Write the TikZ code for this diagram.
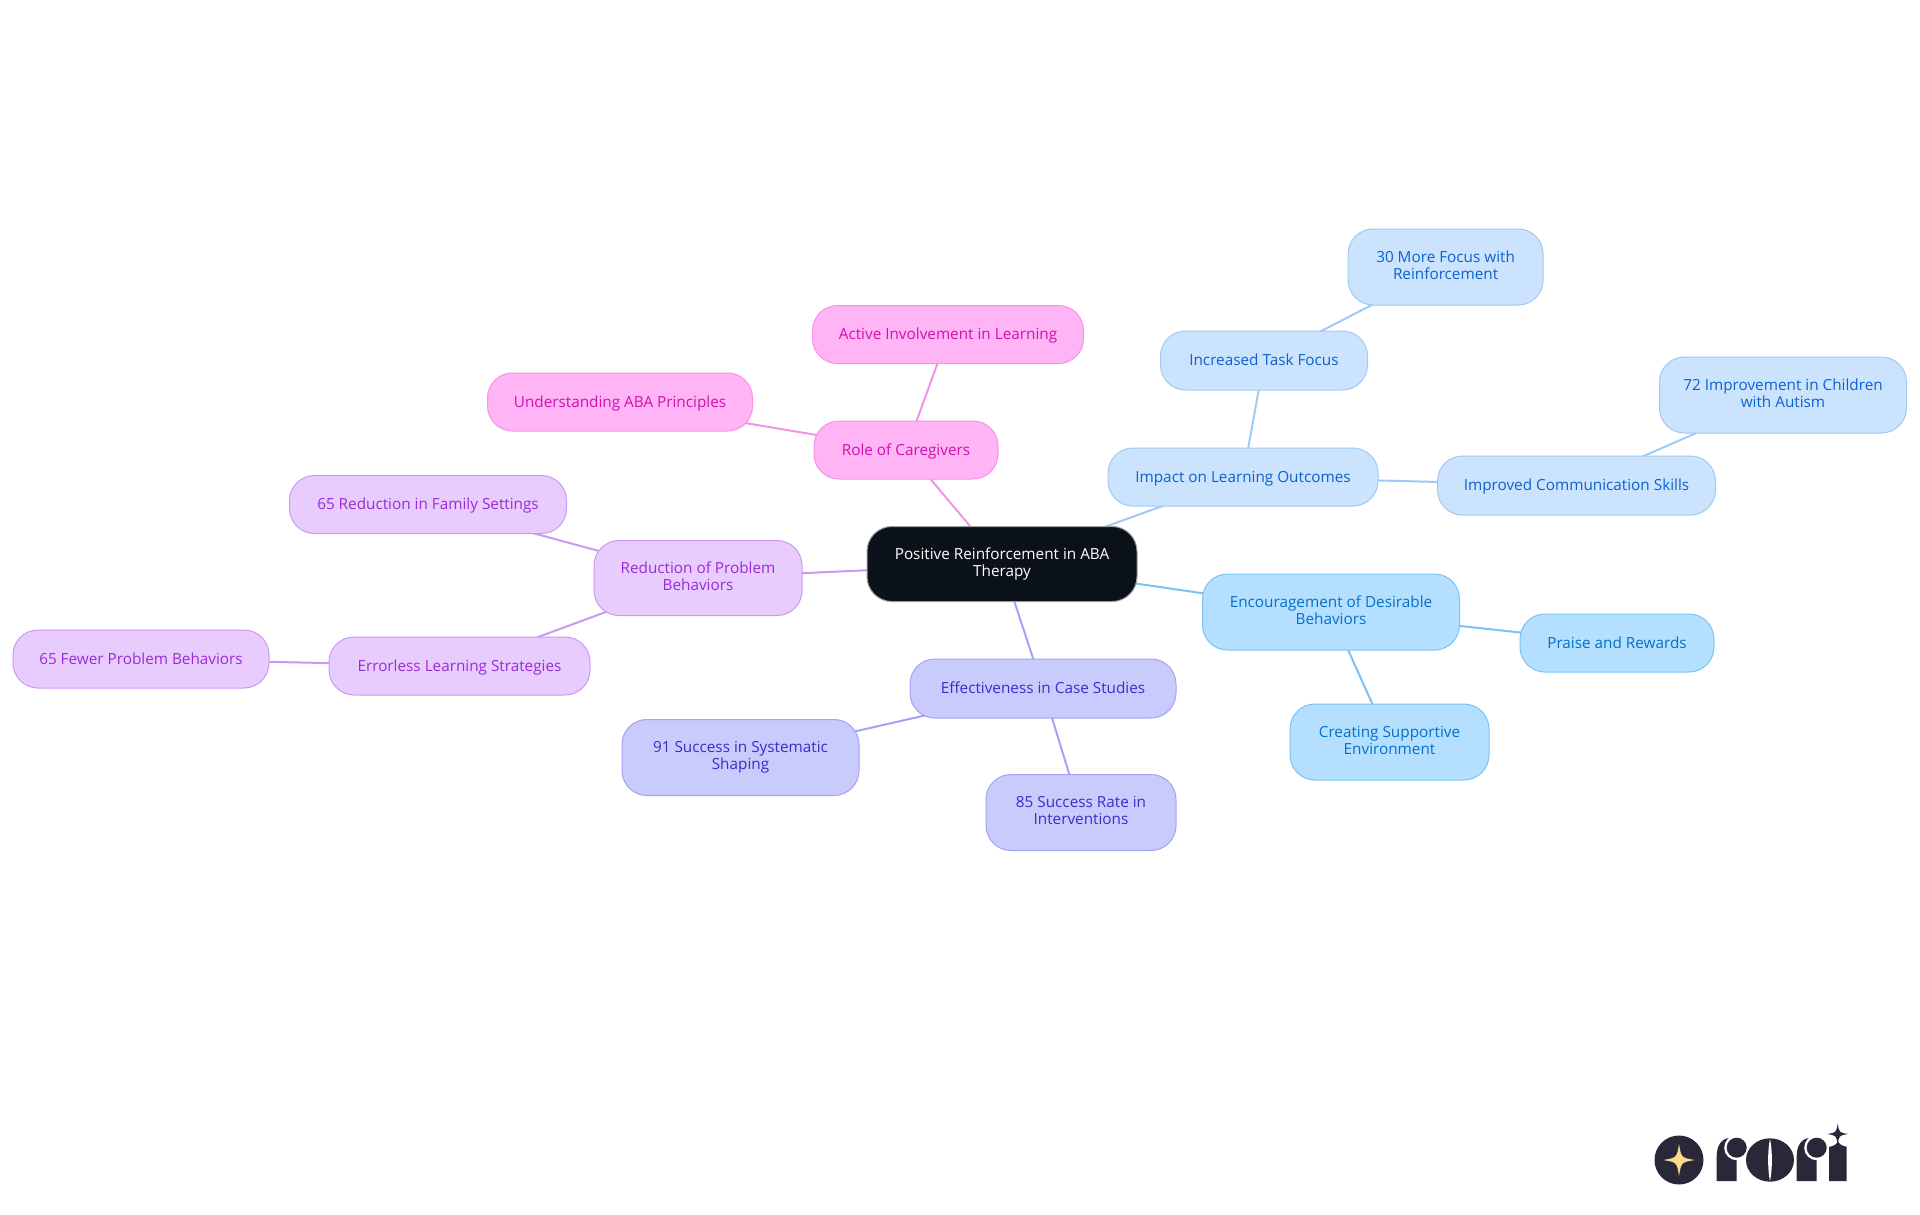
\documentclass[tikz,border=0pt]{standalone}
\usepackage{fontspec}
\setmainfont{Open Sans}
\usetikzlibrary{backgrounds}
\definecolor{rootfill}{HTML}{0B1119}
\definecolor{rootline}{HTML}{9A9CA0}
\definecolor{skyfill}{HTML}{CCE3FD}
\definecolor{skyline}{HTML}{A0C9F5}
\definecolor{skytext}{HTML}{0B62D0}
\definecolor{cyanfill}{HTML}{B5DFFF}
\definecolor{cyanline}{HTML}{7CC2F4}
\definecolor{cyantext}{HTML}{0570C8}
\definecolor{indigofill}{HTML}{C8CBFC}
\definecolor{indigoline}{HTML}{A3A3F2}
\definecolor{indigotext}{HTML}{3A2DCB}
\definecolor{violetfill}{HTML}{E7CCFD}
\definecolor{violetline}{HTML}{CC99F0}
\definecolor{violettext}{HTML}{9A2BD8}
\definecolor{pinkfill}{HTML}{FFB4F5}
\definecolor{pinkline}{HTML}{F592E6}
\definecolor{pinktext}{HTML}{D010B0}
\definecolor{logodark}{HTML}{2A2838}
\definecolor{logostar}{HTML}{FBD88A}
\newcommand{\sparkle}[3]{(#1,#2-#3) .. controls (#1+0.14*#3,#2-0.14*#3) .. (#1+#3,#2) .. controls (#1+0.14*#3,#2+0.14*#3) .. (#1,#2+#3) .. controls (#1-0.14*#3,#2+0.14*#3) .. (#1-#3,#2) .. controls (#1-0.14*#3,#2-0.14*#3) .. (#1,#2-#3) -- cycle}
\begin{document}
\begin{tikzpicture}[x=1pt,y=-1pt,line join=round,line cap=round,
		font=\fontsize{15.3}{17}\selectfont,
		mind/.style 2 args={rounded corners=25pt,align=center,inner sep=0pt,line width=1pt,minimum width=#1pt,minimum height=#2pt,
			execute at begin node={\rule{0pt}{14pt}},execute at end node={\rule[-4pt]{0pt}{4pt}}},
		rootnode/.style={fill=rootfill,draw=rootline,text=white},
		skynode/.style={fill=skyfill,draw=skyline,text=skytext},
		cyannode/.style={fill=cyanfill,draw=cyanline,text=cyantext},
		indigonode/.style={fill=indigofill,draw=indigoline,text=indigotext},
		violetnode/.style={fill=violetfill,draw=violetline,text=violettext},
		pinknode/.style={fill=pinkfill,draw=pinkline,text=pinktext},
		link/.style={line width=2pt}]
		\useasboundingbox (0,0) rectangle (1920,1215);
		\node[mind={270}{75},rootnode] (root) at (1002,564) {Positive Reinforcement in ABA\\Therapy};
		\node[mind={270}{58},skynode] (impact) at (1243,477) {Impact on Learning Outcomes};
		\node[mind={207}{59},skynode] (taskfocus) at (1264,360.5) {Increased Task Focus};
		\node[mind={195}{76},skynode] (morefocus) at (1445.6,267) {30 More Focus with\\Reinforcement};
		\node[mind={278}{59},skynode] (commskills) at (1576.5,485.5) {Improved Communication Skills};
		\node[mind={247}{76},skynode] (autism) at (1783,395) {72 Improvement in Children\\with Autism};
		\node[mind={257}{76},cyannode] (encourage) at (1331,612) {Encouragement of Desirable\\Behaviors};
		\node[mind={194}{58},cyannode] (praise) at (1617,643) {Praise and Rewards};
		\node[mind={199}{76},cyannode] (supportive) at (1389.5,742) {Creating Supportive\\Environment};
		\node[mind={266}{59},indigonode] (casestudies) at (1043,688.5) {Effectiveness in Case Studies};
		\node[mind={237}{76},indigonode] (shaping) at (740.5,757.5) {91 Success in Systematic\\Shaping};
		\node[mind={190}{76},indigonode] (successrate) at (1081,812.5) {85 Success Rate in\\Interventions};
		\node[mind={208}{75},violetnode] (reduction) at (698,578) {Reduction of Problem\\Behaviors};
		\node[mind={277}{58},violetnode] (family) at (428,504.5) {65 Reduction in Family Settings};
		\node[mind={261}{58},violetnode] (errorless) at (459.5,666) {Errorless Learning Strategies};
		\node[mind={256}{58},violetnode] (fewer) at (141,659) {65 Fewer Problem Behaviors};
		\node[mind={184}{58},pinknode] (caregivers) at (906,450) {Role of Caregivers};
		\node[mind={271}{58},pinknode] (active) at (948,334.5) {Active Involvement in Learning};
		\node[mind={265}{58},pinknode] (principles) at (620,402) {Understanding ABA Principles};
		\begin{scope}[on background layer]
			\draw[link,skyline] (root.center)--(impact.center);
			\draw[link,skyline] (impact.center)--(taskfocus.center);
			\draw[link,skyline] (taskfocus.center)--(morefocus.center);
			\draw[link,skyline] (impact.center)--(commskills.center);
			\draw[link,skyline] (commskills.center)--(autism.center);
			\draw[link,cyanline] (root.center)--(encourage.center);
			\draw[link,cyanline] (encourage.center)--(praise.center);
			\draw[link,cyanline] (encourage.center)--(supportive.center);
			\draw[link,indigoline] (root.center)--(casestudies.center);
			\draw[link,indigoline] (casestudies.center)--(shaping.center);
			\draw[link,indigoline] (casestudies.center)--(successrate.center);
			\draw[link,violetline] (root.center)--(reduction.center);
			\draw[link,violetline] (reduction.center)--(family.center);
			\draw[link,violetline] (reduction.center)--(errorless.center);
			\draw[link,violetline] (errorless.center)--(fewer.center);
			\draw[link,pinkline] (root.center)--(caregivers.center);
			\draw[link,pinkline] (caregivers.center)--(active.center);
			\draw[link,pinkline] (caregivers.center)--(principles.center);
		\end{scope}
		\fill[logodark] (1679,1160) circle(24.5);
		\fill[logostar] \sparkle{1679}{1160}{16};
		\fill[logodark] (1716.7,1181) -- (1716.7,1156) .. controls (1716.7,1146) and (1721,1139) .. (1729,1138) -- (1736.7,1150) -- (1736.7,1181) -- cycle;
		\fill[white] (1736.7,1147.7) circle(12.5);
		\fill[logodark] (1736.7,1147.7) circle(10);
		\fill[logodark] (1770,1160) ellipse(24 and 21.7);
		\fill[white] (1770,1139) .. controls (1767.5,1150) and (1767.5,1170) .. (1770,1181) .. controls (1772.5,1170) and (1772.5,1150) .. (1770,1139) -- cycle;
		\fill[logodark] (1796.7,1181) -- (1796.7,1156) .. controls (1796.7,1146) and (1801,1139) .. (1809,1138) -- (1816.7,1150) -- (1816.7,1181) -- cycle;
		\fill[white] (1816.7,1147.7) circle(12.5);
		\fill[logodark] (1816.7,1147.7) circle(10);
		\fill[logodark] (1829,1181) -- (1829,1147) .. controls (1834,1146) and (1837,1144) .. (1838,1141) .. controls (1839,1144) and (1842,1146) .. (1846.7,1146.7) -- (1846.7,1181) -- cycle;
		\fill[logodark] \sparkle{1837.7}{1134}{10.5};
\end{tikzpicture}
\end{document}
